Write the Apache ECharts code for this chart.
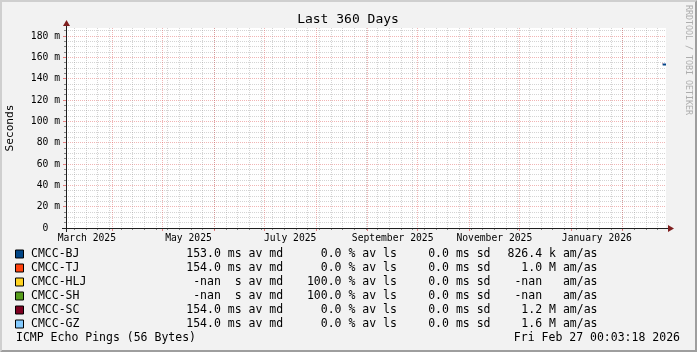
<!DOCTYPE html>
<html><head><meta charset="utf-8">
<script src="https://cdn.jsdelivr.net/npm/echarts@6/dist/echarts.min.js"></script>
<style>html,body{margin:0;padding:0;background:#f2f2f2}#c{width:697px;height:352px}</style>
</head><body><div id="c"></div>
<script>
// ---------------- data ----------------
const titleText = 'Last 360 Days';
const unitLabel = 'Seconds';
const endTimeStr = '2026-02-27T00:03:18Z';
const spanDays = 360;
const targets = ['CMCC-BJ', 'CMCC-TJ', 'CMCC-HLJ', 'CMCC-SH', 'CMCC-SC', 'CMCC-GZ'];
const colors = ['#004586', '#ff420e', '#ffd320', '#579d1c', '#7e0021', '#83caff'];
const sampleTimes = ['2026-02-25T00:00:00Z', '2026-02-27T00:00:00Z'];
const medianBJ = [153, 153];
const medianTJ = [154, 154];
const medianHLJ = [null, null];
const medianSH = [null, null];
const medianSC = [154, 154];
const medianGZ = [154, 154];
const avgMedianMs = [153.0, 154.0, NaN, NaN, 154.0, 154.0];
const avgLossPct = [0.0, 0.0, 100.0, 100.0, 0.0, 0.0];
const avgSdMs = [0.0, 0.0, 0.0, 0.0, 0.0, 0.0];
const amas = [826.4e3, 1.0e6, NaN, NaN, 1.2e6, 1.6e6];
const yTicks = [0, 20, 40, 60, 80, 100, 120, 140, 160, 180];
const yMinorTicks = [5, 10, 15, 25, 30, 35, 45, 50, 55, 65, 70, 75, 85, 90, 95, 105, 110, 115, 125, 130, 135, 145, 150, 155, 165, 170, 175, 185];
const yMax = 187.5;
const monthStarts = ['2025-04-01', '2025-05-01', '2025-06-01', '2025-07-01', '2025-08-01', '2025-09-01', '2025-10-01', '2025-11-01', '2025-12-01', '2026-01-01', '2026-02-01'];
const labelMonths = ['2025-03', '2025-05', '2025-07', '2025-09', '2025-11', '2026-01'];
const labelTexts = ['March 2025', 'May 2025', 'July 2025', 'September 2025', 'November 2025', 'January 2026'];
const firstSunday = '2025-03-09';
const footerLeft = 'ICMP Echo Pings (56 Bytes)';
const footerRight = 'Fri Feb 27 00:03:18 2026';
const watermark = 'RRDTOOL / TOBI OETIKER';

// ---------------- derived ticks ----------------
const DAY = 86400000;
const endTime = Date.parse(endTimeStr);
const startTime = endTime - spanDays * DAY;
const monthTickVals = monthStarts.map(s => Date.parse(s + 'T00:00:00Z'));
const labelVals = labelMonths.map(s => {
  const [y, m] = s.split('-').map(Number);
  return (Date.UTC(y, m - 1, 1) + Date.UTC(y, m, 1)) / 2;
});
const labelMap = {};
labelVals.forEach((v, i) => { labelMap[v] = labelTexts[i]; });
const weekTickVals = [];
for (let t = Date.parse(firstSunday + 'T00:00:00Z'); t < endTime; t += 7 * DAY) weekTickVals.push(t);

const seriesData = [medianBJ, medianTJ, medianHLJ, medianSH, medianSC, medianGZ];

function fmtMd(v) { return isNaN(v) ? '-nan  s av md' : v.toFixed(1) + ' ms av md'; }
function fmtAmas(v) {
  if (isNaN(v)) return '-nan   am/as';
  if (v >= 1e6) return (v / 1e6).toFixed(1) + ' M am/as';
  return (v / 1e3).toFixed(1) + ' k am/as';
}

const MONO = '"DejaVu Sans Mono", monospace';
const minorColor = 'rgba(143,143,143,0.38)';
const majorColor = 'rgba(222,79,79,0.42)';
const tickColor = 'rgba(90,90,90,0.7)';
const arrowColor = '#7f1f1f';
const axisColor = '#1f1f1f';
const lf = { fontFamily: MONO, fontSize: 11.5, lineHeight: 14, color: '#000' };

const chart = echarts.init(document.getElementById('c'), null, { renderer: 'canvas' });
chart.setOption({
  animation: false,
  backgroundColor: '#f2f2f2',
  grid: { left: 66, top: 28, width: 600, height: 200, show: true, backgroundColor: '#ffffff', borderWidth: 0 },
  xAxis: [
    { // minor weekly grid
      type: 'value', position: 'bottom', min: startTime, max: endTime,
      axisLine: { show: false }, axisLabel: { show: false },
      axisTick: { show: true, customValues: weekTickVals, length: 2, lineStyle: { color: tickColor } },
      splitLine: { show: true, lineStyle: { color: minorColor, width: 1, type: [1, 1] } }
    },
    { // major monthly grid + labels
      type: 'value', position: 'bottom', min: startTime, max: endTime,
      axisLine: { show: true, lineStyle: { color: axisColor, width: 1 } },
      axisTick: { show: true, customValues: monthTickVals, length: 3, lineStyle: { color: 'rgba(222,79,79,0.7)' } },
      splitLine: { show: true, lineStyle: { color: majorColor, width: 1, type: [1, 1] } },
      axisLabel: {
        show: true, customValues: labelVals, margin: 5,
        fontFamily: MONO, fontSize: 9.7, color: '#000',
        formatter: v => labelMap[v] || ''
      }
    }
  ],
  yAxis: [
    {
      type: 'value', position: 'left', min: 0, max: yMax,
      axisLine: { show: false }, axisLabel: { show: false },
      axisTick: { show: true, customValues: yMinorTicks, length: 2, lineStyle: { color: tickColor } },
      splitLine: { show: true, lineStyle: { color: minorColor, width: 1, type: [1, 1] } }
    },
    {
      type: 'value', position: 'left', min: 0, max: yMax,
      axisLine: { show: true, lineStyle: { color: axisColor, width: 1 } },
      axisTick: { show: true, customValues: yTicks, length: 3, lineStyle: { color: 'rgba(222,79,79,0.7)' } },
      splitLine: { show: true, lineStyle: { color: majorColor, width: 1, type: [1, 1] } },
      axisLabel: {
        show: true, customValues: yTicks, margin: 6,
        fontFamily: MONO, fontSize: 9.7, color: '#000',
        formatter: v => v === 0 ? '0  ' : v + ' m'
      }
    }
  ],
  legend: {
    orient: 'vertical', left: 15, top: 247, padding: 0, itemGap: 0,
    itemWidth: 8, itemHeight: 8, icon: 'rect', selectedMode: false,
    itemStyle: { borderColor: '#000', borderWidth: 1 },
    data: targets,
    textStyle: Object.assign({}, lf, {
      rich: {
        s: Object.assign({ width: 2.5 }, lf),
        n: Object.assign({ width: 150, align: 'left' }, lf),
        a: Object.assign({ width: 102.2, align: 'right' }, lf),
        b: Object.assign({ width: 113.7, align: 'right' }, lf),
        c: Object.assign({ width: 93.6, align: 'right' }, lf),
        d: Object.assign({ width: 107, align: 'right' }, lf)
      }
    }),
    formatter: name => {
      const i = targets.indexOf(name);
      return '{s| }{n|' + name + '}{a|' + fmtMd(avgMedianMs[i]) + '}{b|' +
        avgLossPct[i].toFixed(1) + ' % av ls}{c|' + avgSdMs[i].toFixed(1) + ' ms sd}{d|' +
        fmtAmas(amas[i]) + '}';
    }
  },
  series: targets.map((name, i) => ({
    name: name, type: 'line', xAxisIndex: 1, yAxisIndex: 1,
    z: i === 0 ? 5 : 2,
    color: colors[i], showSymbol: false, symbol: 'none',
    lineStyle: { width: i === 0 ? 1.5 : 1, color: colors[i] },
    data: sampleTimes.map((t, k) => [Date.parse(t), seriesData[i][k]])
  })),
  graphic: [
    { type: 'polygon', z: 100, shape: { points: [[0,0],[697,0],[695,2],[2,2],[2,350],[0,352]] }, style: { fill: '#cfcfcf' } },
    { type: 'polygon', z: 100, shape: { points: [[697,0],[697,352],[0,352],[2,350],[695,350],[695,2]] }, style: { fill: '#9e9e9e' } },
    { type: 'line', z: 100, shape: { x1: 62, y1: 228.5, x2: 669, y2: 228.5 }, style: { stroke: axisColor, lineWidth: 1 } },
    { type: 'line', z: 100, shape: { x1: 66.5, y1: 232, x2: 66.5, y2: 25 }, style: { stroke: axisColor, lineWidth: 1 } },
    { type: 'polygon', z: 101, shape: { points: [[668, 225], [674, 228.5], [668, 232]] }, style: { fill: arrowColor } },
    { type: 'polygon', z: 101, shape: { points: [[63, 26], [66.5, 20], [70, 26]] }, style: { fill: arrowColor } },
    { type: 'text', z: 100, x: 348, y: 19.5, style: { text: titleText, font: '13px ' + MONO, fill: '#000', align: 'center', verticalAlign: 'middle' } },
    { type: 'text', z: 100, x: 10.5, y: 128, rotation: Math.PI / 2, style: { text: unitLabel, font: '11.2px ' + MONO, fill: '#000', align: 'center', verticalAlign: 'middle' } },
    { type: 'text', z: 100, x: 688, y: 60, rotation: -Math.PI / 2, style: { text: watermark, font: '8.3px ' + MONO, fill: '#adadad', align: 'center', verticalAlign: 'middle' } },
    { type: 'text', z: 100, x: 16, y: 338, style: { text: footerLeft, font: '11.5px ' + MONO, fill: '#000', align: 'left', verticalAlign: 'middle' } },
    { type: 'text', z: 100, x: 680, y: 338, style: { text: footerRight, font: '11.5px ' + MONO, fill: '#000', align: 'right', verticalAlign: 'middle' } }
  ]
});
</script></body></html>
